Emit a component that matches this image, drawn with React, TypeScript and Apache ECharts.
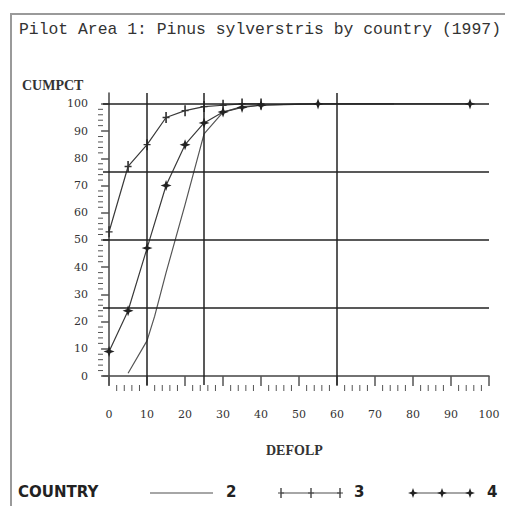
import React, { useEffect, useRef } from "react";
import * as echarts from "echarts";

const titleText = "Pilot Area 1: Pinus sylverstris by country (1997)";
const yAxisTitle = "CUMPCT";
const xAxisTitle = "DEFOLP";
const legendTitle = "COUNTRY";
const countries = ["2", "3", "4"];

const defolp2 = [5, 10, 12, 15, 20, 25, 30, 35, 40, 50, 75];
const cumpct2 = [1, 13, 22, 38, 63, 89, 97, 99, 99.5, 100, 100];

const defolp3 = [0, 5, 10, 15, 20, 25, 30, 35, 40];
const cumpct3 = [53, 77, 85, 95, 97.5, 99, 99.5, 100, 100];

const defolp4 = [0, 5, 10, 15, 20, 25, 30, 35, 40, 55, 95];
const cumpct4 = [9, 24, 47, 70, 85, 93, 97, 98.7, 99.5, 100, 100];

const xLabelValues = [0, 10, 20, 30, 40, 50, 60, 70, 80, 90, 100];
const yLabelValues = [0, 10, 20, 30, 40, 50, 60, 70, 80, 90, 100];
const refY = [25, 50, 75, 100];
const refX = [10, 25, 60];

const minorX: number[] = [];
for (let v = 0; v <= 100; v += 2) if (v % 10 !== 0) minorX.push(v);
const minorY: number[] = [];
for (let v = 0; v <= 100; v += 2) if (v % 10 !== 0) minorY.push(v);

const zip = (a: number[], b: number[]) => a.map((x, i) => [x, b[i]]);

const CROSS = "path://M-0.7,-5 L0.7,-5 L0.7,-0.6 L3,-0.6 L3,0.6 L0.7,0.6 L0.7,5 L-0.7,5 L-0.7,0.6 L-3,0.6 L-3,-0.6 L-0.7,-0.6 Z";
const STAR = "path://M0,-5 L1.3,-1.3 L5,0 L1.3,1.3 L0,5 L-1.3,1.3 L-5,0 L-1.3,-1.3 Z";

const crossPts = (cx: number, cy: number) => [
  [cx - 0.7, cy - 5], [cx + 0.7, cy - 5], [cx + 0.7, cy - 0.6], [cx + 3, cy - 0.6], [cx + 3, cy + 0.6],
  [cx + 0.7, cy + 0.6], [cx + 0.7, cy + 5], [cx - 0.7, cy + 5], [cx - 0.7, cy + 0.6], [cx - 3, cy + 0.6],
  [cx - 3, cy - 0.6], [cx - 0.7, cy - 0.6],
];
const starPts = (cx: number, cy: number) => [
  [cx, cy - 5], [cx + 1.3, cy - 1.3], [cx + 5, cy], [cx + 1.3, cy + 1.3], [cx, cy + 5],
  [cx - 1.3, cy + 1.3], [cx - 5, cy], [cx - 1.3, cy - 1.3],
];

export default function App() {
  const ref = useRef<HTMLDivElement>(null);
  useEffect(() => {
    if (!ref.current) return;
    const chart = echarts.init(ref.current, null, { renderer: "svg" });
    const labelFont = { fontFamily: "DejaVu Serif", fontSize: 11, color: "#333" };
    const lineColor = "#3a3a3a";
    const legendY = 493;
    const tickSeries = (ticks: number[], dim: "x" | "y", len: number, width: number) => ({
      type: "custom",
      silent: true,
      z: 3,
      clip: false,
      data: ticks,
      encode: dim === "x" ? { x: 0 } : { y: 0 },
      renderItem: (params: any, api: any) => {
        const v = api.value(0);
        if (dim === "x") {
          const p = api.coord([v, -3.3]);
          return { type: "line", shape: { x1: p[0], y1: p[1], x2: p[0], y2: p[1] + len }, style: { stroke: "#555", lineWidth: width } };
        }
        const p = api.coord([-1.6, v]);
        return { type: "line", shape: { x1: p[0] - len, y1: p[1], x2: p[0], y2: p[1] }, style: { stroke: "#555", lineWidth: width } };
      },
    });
    const option: any = {
      animation: false,
      backgroundColor: "#fff",
      grid: { left: 103, right: 16, top: 93, bottom: 121 },
      xAxis: {
        type: "value", min: -1.6, max: 100, position: "bottom",
        axisLine: { show: true, lineStyle: { color: "#444", width: 1.5 } },
        axisTick: { show: true, length: 10, customValues: xLabelValues, lineStyle: { color: "#555", width: 1.5 } },
        axisLabel: { show: true, margin: 24, customValues: xLabelValues, ...labelFont },
        splitLine: { show: false },
      },
      yAxis: {
        type: "value", min: -3.3, max: 104, position: "left",
        axisLine: { show: true, lineStyle: { color: "#444", width: 1.5 } },
        axisTick: { show: true, length: 8, customValues: yLabelValues, lineStyle: { color: "#555", width: 1.5 } },
        axisLabel: { show: true, margin: 15, customValues: yLabelValues, ...labelFont },
        splitLine: { show: false },
      },
      series: [
        {
          name: "2", type: "line", data: zip(defolp2, cumpct2), showSymbol: false, symbol: "none",
          lineStyle: { color: "#555", width: 1.2 },
          markLine: {
            silent: true, symbol: ["none", "none"], label: { show: false },
            lineStyle: { color: "#222", width: 1.5, type: "solid" },
            data: [...refY.map((v) => ({ yAxis: v })), ...refX.map((v) => ({ xAxis: v }))],
          },
        },
        {
          name: "3", type: "line", data: zip(defolp3, cumpct3), symbol: CROSS, symbolSize: [7, 11],
          itemStyle: { color: "#333" },
          lineStyle: { color: lineColor, width: 1.2 },
        },
        {
          name: "4", type: "line", data: zip(defolp4, cumpct4), symbol: STAR, symbolSize: [11, 11],
          itemStyle: { color: "#222" },
          lineStyle: { color: lineColor, width: 1.2 },
        },
        tickSeries(minorX, "x", 6, 1),
        tickSeries(minorY, "y", 5, 1),
      ],
      graphic: [
        { type: "rect", shape: { x: 11, y: 14, width: 600, height: 600 }, style: { fill: "none", stroke: "#9a9a9a", lineWidth: 2 }, silent: true },
        { type: "text", left: 19, top: 21, style: { text: titleText, font: "16.4px 'Liberation Mono'", fill: "#333" } },
        { type: "text", left: 22, top: 78, style: { text: yAxisTitle, font: "bold 14px 'Liberation Serif'", fill: "#333" } },
        { type: "text", left: 266, top: 443, style: { text: xAxisTitle, font: "bold 14px 'Liberation Serif'", fill: "#333" } },
        { type: "text", left: 18, top: legendY - 9, style: { text: legendTitle, font: "bold 15px 'DejaVu Sans'", fill: "#222" } },
        { type: "line", shape: { x1: 150, y1: legendY, x2: 213, y2: legendY }, style: { stroke: "#888", lineWidth: 1.5 } },
        { type: "text", left: 226, top: legendY - 9, style: { text: countries[0], font: "bold 15px 'DejaVu Sans'", fill: "#222" } },
        { type: "line", shape: { x1: 281, y1: legendY, x2: 341, y2: legendY }, style: { stroke: "#888", lineWidth: 1.5 } },
        ...[281, 311, 340].map((cx) => ({ type: "polygon", shape: { points: crossPts(cx, legendY) }, style: { fill: "#444" } })),
        { type: "text", left: 354, top: legendY - 9, style: { text: countries[1], font: "bold 15px 'DejaVu Sans'", fill: "#222" } },
        { type: "line", shape: { x1: 411, y1: legendY, x2: 471, y2: legendY }, style: { stroke: "#888", lineWidth: 1.5 } },
        ...[413, 442, 470].map((cx) => ({ type: "polygon", shape: { points: starPts(cx, legendY) }, style: { fill: "#222" } })),
        { type: "text", left: 487, top: legendY - 9, style: { text: countries[2], font: "bold 15px 'DejaVu Sans'", fill: "#222" } },
      ],
    };
    chart.setOption(option);
    return () => chart.dispose();
  }, []);
  return <div ref={ref} style={{ position: "absolute", left: 0, top: 0, width: 505, height: 506 }} />;
}
